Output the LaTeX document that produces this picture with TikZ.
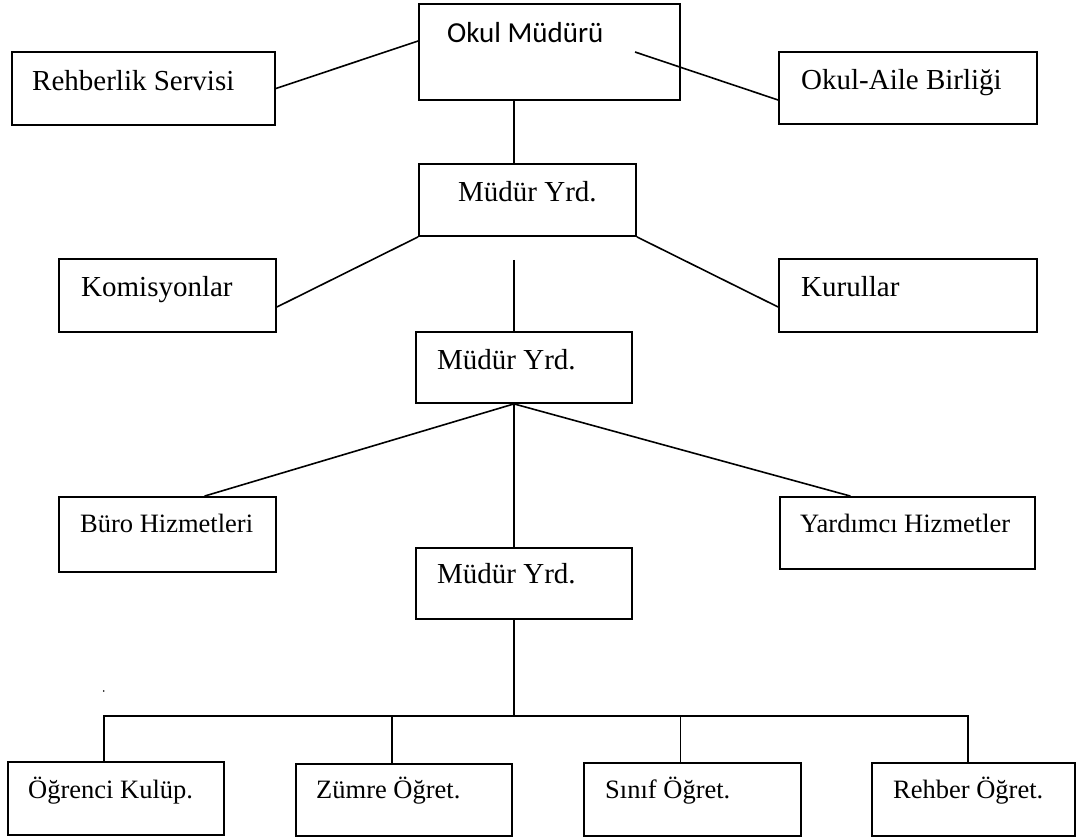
\documentclass[tikz,border=0pt]{standalone}
\usepackage{fontspec}
\setmainfont{Liberation Serif}
\newfontfamily\calibri{Carlito}
\tikzset{
  kutu/.style={draw,line width=1.8pt,inner sep=0pt},
  yazi/.style={anchor=base west,inner sep=0pt,font=\fontsize{29}{34}\selectfont},
  kucuk/.style={yazi,font=\fontsize{26.5}{31}\selectfont},
  hat/.style={line width=1.6pt}
}
\begin{document}
\begin{tikzpicture}[x=1pt,y=-1pt]
\useasboundingbox (0,0) rectangle (1077,837);
\coordinate (s) at (514,0); %spine
% boxes
\node[kutu,minimum width=261pt,minimum height=96pt] (mudur) at (549.5,52) {};
\node[kutu,minimum width=263pt,minimum height=73pt] (rehberlik) at (143.5,88.5) {};
\node[kutu,minimum width=258pt,minimum height=72pt] (okulaile) at (908,88) {};
\node[kutu,minimum width=217pt,minimum height=72pt] (yrd1) at (527.5,200) {};
\node[kutu,minimum width=217pt,minimum height=73pt] (komisyon) at (167.5,295.5) {};
\node[kutu,minimum width=258pt,minimum height=73pt] (kurul) at (908,295.5) {};
\node[kutu,minimum width=216pt,minimum height=71pt] (yrd2) at (524,367.5) {};
\node[kutu,minimum width=217pt,minimum height=75pt] (buro) at (167.5,534.5) {};
\node[kutu,minimum width=255pt,minimum height=72pt] (yardimci) at (907.5,533) {};
\node[kutu,minimum width=216pt,minimum height=71pt] (yrd3) at (524,583.5) {};
\node[kutu,minimum width=216pt,minimum height=73pt] (ogrenci) at (116,798.5) {};
\node[kutu,minimum width=216pt,minimum height=72pt] (zumre) at (404,800) {};
\node[kutu,minimum width=217pt,minimum height=73pt] (sinif) at (692.5,799.5) {};
\node[kutu,minimum width=203pt,minimum height=73pt] (rehber) at (973.5,799.5) {};
% texts
\node[yazi,font=\calibri\fontsize{29}{34}\selectfont] (mudur-y) at (447,43) {Okul Müdürü};
\node[yazi] (rehberlik-y) at (32,91) {Rehberlik Servisi};
\node[yazi] (okulaile-y) at (801,90) {Okul-Aile Birliği};
\node[yazi] (yrd1-y) at (458,202) {Müdür Yrd.};
\node[yazi] (komisyon-y) at (81,297) {Komisyonlar};
\node[yazi] (kurul-y) at (801,297) {Kurullar};
\node[yazi] (yrd2-y) at (437,369) {Müdür Yrd.};
\node[kucuk] (buro-y) at (80,532) {Büro Hizmetleri};
\node[kucuk] (yardimci-y) at (800,532) {Yardımcı Hizmetler};
\node[yazi] (yrd3-y) at (437,583) {Müdür Yrd.};
\node[kucuk] (ogrenci-y) at (28,798) {Öğrenci Kulüp.};
\node[kucuk] (zumre-y) at (316,798) {Zümre Öğret.};
\node[kucuk] (sinif-y) at (605,798) {Sınıf Öğret.};
\node[kucuk] (rehber-y) at (893,798) {Rehber Öğret.};
% connectors
\coordinate (c1) at (635,52);
\coordinate (bos) at (514,260);
\coordinate (dal) at (514,716);
\draw[hat] (rehberlik.east) -- ([yshift=11pt]mudur.west);
\draw[hat] (c1) -- ([yshift=-12pt]okulaile.west);
\draw[hat] (mudur.south -| s) -- (yrd1.north -| s);
\draw[hat] (yrd1.south west) -- ([yshift=-11.5pt]komisyon.east);
\draw[hat] (yrd1.south east) -- ([yshift=-11.5pt]kurul.west);
\draw[hat] (bos) -- (yrd2.north -| s);
\draw[hat] ([xshift=37pt]buro.north) -- (yrd2.south -| s) -- ([xshift=-57pt]yardimci.north);
\draw[hat] (yrd2.south -| s) -- (yrd3.north -| s);
\draw[hat] (yrd3.south -| s) -- (dal);
\draw[hat] ([xshift=-12pt]ogrenci.north) |- (dal) -| ([xshift=-5.5pt]rehber.north); %bus
\foreach \k in {zumre,sinif}
  \draw[hat] ([xshift=-12pt]\k.north) -- ([xshift=-12pt]\k.north |- dal);
\fill (103.7,691) circle (0.9pt);
\end{tikzpicture}
\end{document}
